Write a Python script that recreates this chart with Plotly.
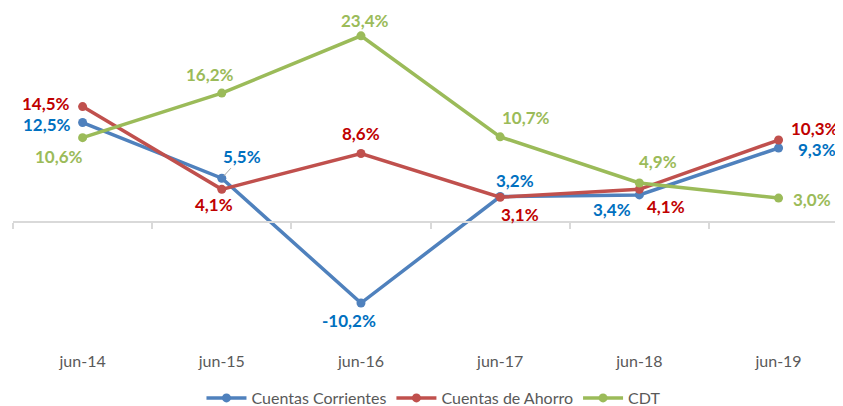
import plotly.graph_objects as go

categories = ["jun-14", "jun-15", "jun-16", "jun-17", "jun-18", "jun-19"]
corrientes = [12.5, 5.5, -10.2, 3.2, 3.4, 9.3]
ahorro = [14.5, 4.1, 8.6, 3.1, 4.1, 10.3]
cdt = [10.6, 16.2, 23.4, 10.7, 4.9, 3.0]

series = [
    ("Cuentas Corrientes", corrientes, "#4F81BD", "#0070C0",
     [(-36, -2), None, (-12, -17), (15, 16), (-27, -15), (38, -2)]),
    ("Cuentas de Ahorro", ahorro, "#C0504D", "#C00000",
     [(-37, 3), (-8, -15), (0, 20), (20, -17), (27, -17), (36, 12)]),
    ("CDT", cdt, "#9BBB59", "#9BBB59",
     [(-24, -19), (-12, 19), (4, 15), (26, 19), (19, 21), (33, -1)]),
]

def fmt(v):
    return f"{v:.1f}".replace(".", ",") + "%"

FONT = "Lato"
fig = go.Figure()
annotations = []
for name, vals, lc, tc, offs in series:
    fig.add_trace(go.Scatter(
        x=categories, y=vals, name=name, mode="lines+markers",
        line=dict(color=lc, width=3.5), marker=dict(color=lc, size=9),
    ))
    for i, (c, v) in enumerate(zip(categories, vals)):
        font = dict(family=FONT, size=17, color=tc, weight="bold")
        if offs[i] is None:
            annotations.append(dict(
                x=c, y=v, text=fmt(v), showarrow=True, ax=20, ay=-22,
                arrowhead=0, arrowwidth=1, arrowcolor="#A6A6A6",
                standoff=3, font=font))
        else:
            dx, dy = offs[i]
            annotations.append(dict(
                x=c, y=v, text=fmt(v), showarrow=False,
                xshift=dx, yshift=dy, font=font))

# secondary axis drawn at zero with boundary ticks
fig.add_trace(go.Scatter(x=categories, y=[0] * 6, xaxis="x2", mode="none",
                         showlegend=False, hoverinfo="skip"))

ymin, ymax = -16.1, 26.9
zero_pos = (0 - ymin) / (ymax - ymin)

fig.update_layout(
    width=835, height=398,
    margin=dict(l=5, r=0, t=0, b=56, autoexpand=False),
    paper_bgcolor="white", plot_bgcolor="white",
    font=dict(family=FONT, color="#595959"),
    xaxis=dict(type="category", range=[-0.5, 5.463], showline=False,
               showgrid=False, zeroline=False, ticks="",
               tickfont=dict(size=16, color="#595959")),
    xaxis2=dict(type="category", overlaying="x", anchor="free",
                position=zero_pos, side="bottom", range=[-0.5, 5.463],
                showline=True, linecolor="#D9D9D9", linewidth=1.5,
                ticks="outside", tickson="boundaries", ticklen=6,
                tickcolor="#D9D9D9", tickwidth=1.5,
                showticklabels=False, showgrid=False, zeroline=False),
    yaxis=dict(range=[ymin, ymax], visible=False, showgrid=False,
               zeroline=False),
    legend=dict(orientation="h", x=0.5066, xanchor="center", y=-0.1404,
                yanchor="middle", font=dict(size=16, color="#595959"),
                itemwidth=40, tracegroupgap=0),
    annotations=annotations,
    showlegend=True,
)

fig.write_html("out.html")
